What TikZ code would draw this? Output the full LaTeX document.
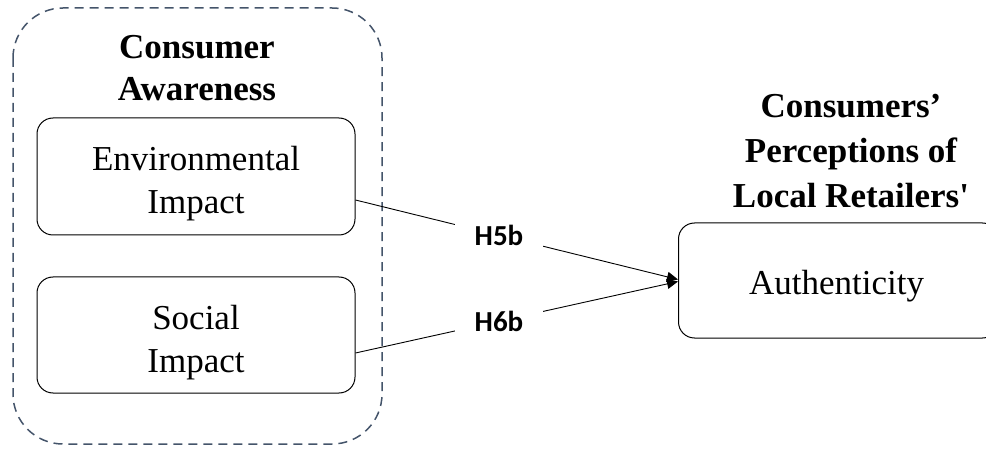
\documentclass[tikz,border=0pt]{standalone}
\usepackage{fontspec}
\setmainfont{Liberation Serif}
\newfontfamily\labelfont{Carlito}
\usetikzlibrary{arrows.meta,calc}
\definecolor{slate}{HTML}{44546A}
\tikzset{
  varbox/.style={draw=black, line width=1pt, rounded corners=16pt, inner sep=0pt},
  vartext/.style={align=center, font=\fontsize{35}{43}\selectfont, inner sep=0pt},
  heading/.style={align=center, font=\fontsize{35}{45}\selectfont\bfseries},
  hyp/.style={fill=white, inner xsep=20pt, inner ysep=2pt,
    font=\fontsize{29}{30}\selectfont\labelfont\bfseries},
  link/.style={line width=0.9pt, -{Triangle[length=11pt,width=10pt]}}
}
\begin{document}
\begin{tikzpicture}[x=1pt,y=-1pt]
\useasboundingbox (0,0) rectangle (986,449);
% dashed grouping frame
\draw[slate, line width=1.5pt, dash pattern=on 9pt off 6pt, rounded corners=50pt]
  (13,8) rectangle (382,444);
\node[heading, font=\fontsize{35}{42}\selectfont\bfseries] (awtitle) at (197,68) {Consumer\\Awareness};
% independent variables
\node[varbox, minimum width=318pt, minimum height=117pt] (env) at (196,176.5) {};
\node[vartext] (envtext) at ([yshift=-7pt]env.center) {Environmental\\Impact};
\node[varbox, minimum width=318pt, minimum height=116pt] (soc) at (196,335) {};
\node[vartext] (soctext) at ([yshift=-8pt]soc.center) {Social\\Impact};
% dependent variable
\node[varbox, minimum width=320pt, minimum height=115pt, anchor=west] (auth) at (678,280.5) {};
\node[vartext] (authtext) at ([xshift=-2pt,yshift=-6pt]auth.center) {Authenticity};
\node[heading] (pertitle) at (851,151) {Consumers'\\Perceptions of\\Local Retailers\textquotesingle};
% hypothesised paths
\coordinate (envout) at ([yshift=-23.5pt]env.east);
\coordinate (socout) at ([yshift=-18pt]soc.east);
\draw[link] (envout) -- node[hyp, pos=0.445] {H5b} ([yshift=1pt]auth.west);
\draw[link] (socout) -- node[hyp, pos=0.445] {H6b} ([yshift=-1pt]auth.west);
\end{tikzpicture}
\end{document}
